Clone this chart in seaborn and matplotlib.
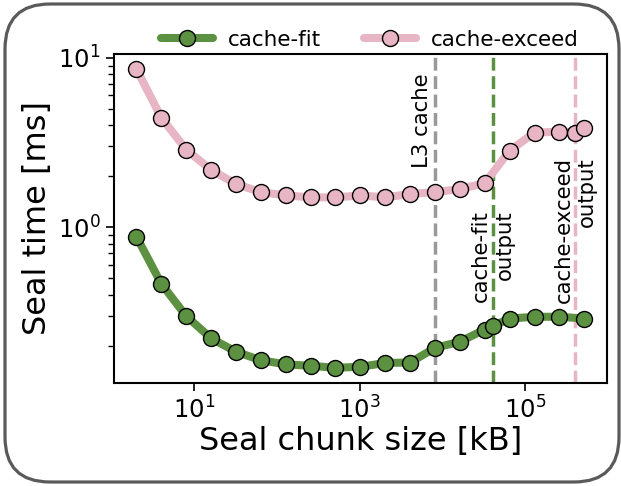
import numpy as np
import pandas as pd
import matplotlib.pyplot as plt
import seaborn as sns
from matplotlib.patches import FancyBboxPatch
from matplotlib.ticker import NullLocator

# chunk sizes in kB
chunk_fit = [2, 4, 8, 16, 32, 64, 128, 256, 512, 1024, 2048, 4096, 8192,
             16384, 32768, 40960, 65536, 131072, 262144, 524288]
time_fit = [0.88, 0.464, 0.299, 0.221, 0.184, 0.164, 0.155, 0.152, 0.148, 0.150,
            0.158, 0.159, 0.194, 0.211, 0.249, 0.261, 0.289, 0.296, 0.296, 0.289]

chunk_exceed = [2, 4, 8, 16, 32, 64, 128, 256, 512, 1024, 2048, 4096, 8192,
                16384, 32768, 65536, 131072, 262144, 409600, 524288]
time_exceed = [8.6, 4.44, 2.87, 2.18, 1.80, 1.61, 1.54, 1.50, 1.50, 1.54,
               1.50, 1.57, 1.61, 1.68, 1.82, 2.83, 3.62, 3.66, 3.62, 3.87]

series_names = ['cache-fit', 'cache-exceed']
l3_cache = 8192
fit_output = 40960
exceed_output = 409600

green = '#5b9140'
pink = '#e8b5c4'

df = pd.concat([
    pd.DataFrame({'chunk': chunk_fit, 'time': time_fit, 'config': series_names[0]}),
    pd.DataFrame({'chunk': chunk_exceed, 'time': time_exceed, 'config': series_names[1]}),
])

sns.set_style('ticks')
plt.rcParams['font.family'] = ['DejaVu Sans']
plt.rcParams.update({'text.color': 'black', 'axes.labelcolor': 'black',
                     'xtick.color': 'black', 'ytick.color': 'black'})

fig = plt.figure(figsize=(6.21, 4.86), dpi=100)
ax = fig.add_axes([0.1836, 0.2125, 0.7934, 0.6765])

sns.lineplot(data=df, x='chunk', y='time', hue='config',
             palette={series_names[0]: green, series_names[1]: pink},
             estimator=None, marker='o', markersize=11.5, markeredgecolor='black',
             markeredgewidth=1.0, linewidth=5.8, legend=False, ax=ax, zorder=3)
ax.set(xscale='log', yscale='log')

# reference lines
ax.axvline(l3_cache, color='#999999', ls='--', lw=2.5, zorder=1)
ax.axvline(fit_output, color=green, ls='--', lw=2.5, zorder=1)
ax.axvline(exceed_output, color=pink, ls='--', lw=2.5, zorder=1)

ax.annotate('L3 cache', xy=(l3_cache, 8.1), xytext=(-2, 0), textcoords='offset points',
            rotation=90, ha='right', va='top', fontsize=15.3)
ax.text(fit_output, 0.36, 'cache-fit\noutput', rotation=90, ha='center', va='bottom',
        multialignment='right', fontsize=15.3)
ax.text(exceed_output, 0.355, 'cache-exceed\noutput', rotation=90, ha='center', va='bottom',
        multialignment='right', fontsize=15.3)

ax.set_xticks([1e1, 1e3, 1e5])
ax.xaxis.set_minor_locator(NullLocator())
ax.set_xlabel('Seal chunk size [kB]', fontsize=23, labelpad=2)
ax.set_ylabel('Seal time [ms]', fontsize=23, labelpad=4)
ax.tick_params(axis='both', which='major', labelsize=17.5, length=6, width=1.2)
ax.tick_params(axis='y', which='minor', length=4, width=1.0)
for s in ax.spines.values():
    s.set_color('black')
    s.set_linewidth(1.5)

lines = ax.get_lines()[:2]
ax.legend(lines, series_names, loc='center', bbox_to_anchor=(0.52, 1.043), ncol=2,
          frameon=False, fontsize=15.5, handlelength=2.4, handletextpad=0.7,
          columnspacing=2.0, borderaxespad=0)

# rounded frame around the whole figure
frame = FancyBboxPatch((0.05, 0.04), 6.14, 4.78, boxstyle='round,pad=0,rounding_size=0.45',
                       transform=fig.dpi_scale_trans, facecolor='none',
                       edgecolor='#5a5a5a', linewidth=2.3, zorder=10)
fig.add_artist(frame)

fig.savefig('out.png', dpi=100)
